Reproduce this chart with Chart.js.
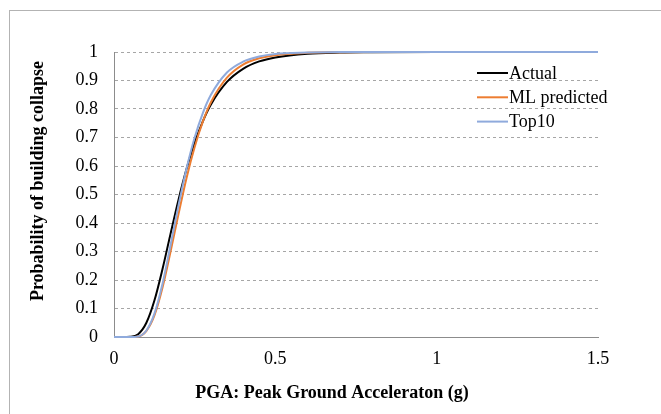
<!DOCTYPE html>
<html>
<head>
<meta charset="utf-8">
<script src="https://cdn.jsdelivr.net/npm/chart.js@4.4.1/dist/chart.umd.min.js"></script>
<style>
  html, body { margin: 0; padding: 0; background: #fff; }
  #wrap { position: relative; width: 661px; height: 414px; overflow: hidden; }
  #frame { position: absolute; left: 9px; top: 10px; width: 700px; height: 500px; border: 1px solid #b3b3b3; }
  canvas { position: absolute; left: 0; top: 0; }
</style>
</head>
<body>
<div id="wrap">
  <div id="frame"></div>
  <canvas id="fragilityChart" width="661" height="414"></canvas>
</div>
<script>
// PGA (g) valori
const pga = [0, 0.025, 0.05, 0.075, 0.1, 0.125, 0.15, 0.175, 0.2, 0.225, 0.25, 0.275, 0.3, 0.35, 0.4, 0.45, 0.5, 0.6, 0.7, 0.8, 1.0, 1.5];

// probabilita di collasso per ogni serie
const actual = [0, 0, 0.001, 0.010, 0.049, 0.127, 0.237, 0.361, 0.482, 0.590, 0.682, 0.756, 0.815, 0.895, 0.941, 0.967, 0.981, 0.994, 0.998, 0.999, 1, 1];
const mlPredicted = [0, 0, 0, 0.002, 0.021, 0.075, 0.172, 0.298, 0.432, 0.559, 0.667, 0.755, 0.823, 0.910, 0.956, 0.978, 0.989, 0.997, 0.999, 1, 1, 1];
const top10 = [0, 0, 0, 0.002, 0.022, 0.081, 0.185, 0.321, 0.462, 0.592, 0.700, 0.785, 0.849, 0.928, 0.966, 0.984, 0.993, 0.998, 1, 1, 1, 1];

const seriesLabels = ['Actual', 'ML predicted', 'Top10'];
const seriesColors = ['#000000', '#ED7D31', '#8FAADC'];
const yTicks = [0, 0.1, 0.2, 0.3, 0.4, 0.5, 0.6, 0.7, 0.8, 0.9, 1];
const xTicks = [0, 0.5, 1, 1.5];

const serif = "'Liberation Serif', 'Times New Roman', serif";

function toPoints(ys) {
    return pga.map((x, i) => ({ x: x, y: ys[i] }));
}

// legenda dentro l'area del grafico + titoli degli assi
const extrasPlugin = {
    id: 'extras',
    afterDraw(chart) {
        const c = chart.ctx;
        c.save();
        // legenda
        c.font = '18px ' + serif;
        c.textBaseline = 'middle';
        c.textAlign = 'left';
        chart.data.datasets.forEach((ds, i) => {
            const y = 73 + i * 24.3;
            c.strokeStyle = ds.borderColor;
            c.lineWidth = 2;
            c.beginPath();
            c.moveTo(477, y);
            c.lineTo(508, y);
            c.stroke();
            c.fillStyle = '#000';
            c.fillText(ds.label, 509, y + 1);
        });
        // titoli assi
        c.font = 'bold 18px ' + serif;
        c.textAlign = 'center';
        c.fillText('PGA: Peak Ground Acceleraton (g)', 332, 393);
        c.translate(38, 181);
        c.rotate(-Math.PI / 2);
        c.fillText('Probability of building collapse', 0, 0);
        c.restore();
    }
};

const ctx = document.getElementById('fragilityChart').getContext('2d');

const myChart = new Chart(ctx, {
    type: 'line',
    data: {
        datasets: [actual, mlPredicted, top10].map((ys, i) => ({
            label: seriesLabels[i],
            data: toPoints(ys),
            borderColor: seriesColors[i],
            backgroundColor: seriesColors[i],
            borderWidth: 2,
            pointRadius: 0,
            cubicInterpolationMode: 'monotone',
            clip: 4,
            order: 2 - i, // Top10 disegnato sopra
        })),
    },
    options: {
        responsive: false,
        animation: false,
        layout: { padding: { left: 0, top: 52, right: 63, bottom: 0 } },
        plugins: {
            legend: { display: false },
            tooltip: { enabled: false },
        },
        scales: {
            x: {
                type: 'linear',
                min: 0,
                max: 1.5,
                afterBuildTicks: (scale) => { scale.ticks = xTicks.map(v => ({ value: v })); },
                afterFit: (scale) => { scale.height = 77; },
                grid: { display: false, drawTicks: false },
                border: { display: true, color: '#8c8c8c', width: 1 },
                ticks: {
                    padding: 11,
                    color: '#000',
                    font: { family: serif, size: 18 },
                    callback: (v) => String(v),
                },
            },
            y: {
                min: 0,
                max: 1,
                afterBuildTicks: (scale) => { scale.ticks = yTicks.map(v => ({ value: v })); },
                afterFit: (scale) => { scale.width = 114; },
                grid: { color: '#a6a6a6', lineWidth: 1, drawTicks: false },
                border: { display: true, color: '#8c8c8c', width: 1, dash: [3, 3] },
                ticks: {
                    padding: 16,
                    color: '#000',
                    font: { family: serif, size: 18 },
                    callback: (v) => String(v),
                },
            },
        },
    },
    plugins: [extrasPlugin],
});
</script>
</body>
</html>
